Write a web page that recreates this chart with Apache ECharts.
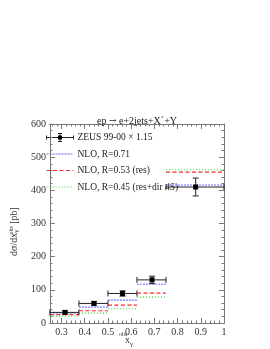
<!DOCTYPE html>
<html><head><meta charset="utf-8">
<script src="https://cdn.jsdelivr.net/npm/echarts@6/dist/echarts.min.js"></script>
<style>html,body{margin:0;padding:0;background:#fff}#c{width:270px;height:349px}</style>
</head><body><div id="c"></div>
<script>
// bins
const binLo = [0.25, 0.375, 0.5, 0.625, 0.75];
const binHi = [0.375, 0.5, 0.625, 0.75, 1.0];
// ZEUS data
const zeusX = [0.315, 0.44, 0.563, 0.69, 0.878];
const zeusY = [32, 59, 89, 130, 410];
const zeusErr = [5, 6, 8, 11, 27];
// NLO predictions
const nloR071 = [30, 48, 69, 117, 416];
const nloR053 = [25, 37, 54, 90, 455];
const nloR045 = [21, 30, 43, 78, 462];
// tick labels
const xTicks = [0.3, 0.4, 0.5, 0.6, 0.7, 0.8, 0.9, 1.0];
const xMinor = [];
for (let v = 26; v < 100; v += 2) if (v % 10 !== 0) xMinor.push(v / 100);

const FONT = 'Liberation Serif';
const histStyles = {
  r071: {color: '#9a9aff', width: 1.6, dash: [2, 1]},
  r053: {color: '#ff2a2a', width: 1.2, dash: [4, 2.5]},
  r045: {color: '#2ee02e', width: 1.2, dash: [1, 2]}
};
function lineStyleOf(st) {
  return {stroke: st.color, lineWidth: st.width, lineDash: st.dash, fill: null};
}
function histSeries(name, vals, st) {
  return {
    type: 'custom', name: name, xAxisIndex: 0, yAxisIndex: 0,
    itemStyle: {color: st.color, borderColor: st.color},
    data: vals.map((v, i) => [binLo[i], binHi[i], v]),
    renderItem: function (params, api) {
      const p0 = api.coord([api.value(0), api.value(2)]);
      const p1 = api.coord([api.value(1), api.value(2)]);
      return {type: 'line', shape: {x1: p0[0], y1: p0[1], x2: p1[0], y2: p1[1]},
        style: lineStyleOf(st)};
    }
  };
}
const dataSeries = {
  type: 'custom', name: 'ZEUS', z: 5,
  itemStyle: {color: '#000'},
  data: zeusX.map((x, i) => [x, zeusY[i], zeusErr[i], binLo[i], binHi[i]]),
  renderItem: function (params, api) {
    const c = api.coord([api.value(0), api.value(1)]);
    const lo = api.coord([api.value(3), api.value(1)]);
    const hi = api.coord([api.value(4), api.value(1)]);
    const top = api.coord([api.value(0), api.value(1) + api.value(2)]);
    const bot = api.coord([api.value(0), api.value(1) - api.value(2)]);
    const s = {stroke: '#222', lineWidth: 1, fill: null};
    const cap = 3;
    return {type: 'group', children: [
      {type: 'line', shape: {x1: lo[0], y1: c[1], x2: hi[0], y2: c[1]}, style: s},
      {type: 'line', shape: {x1: lo[0], y1: c[1] - cap, x2: lo[0], y2: c[1] + cap}, style: s},
      {type: 'line', shape: {x1: hi[0], y1: c[1] - cap, x2: hi[0], y2: c[1] + cap}, style: s},
      {type: 'line', shape: {x1: c[0], y1: top[1], x2: c[0], y2: bot[1]}, style: s},
      {type: 'line', shape: {x1: c[0] - cap, y1: top[1], x2: c[0] + cap, y2: top[1]}, style: s},
      {type: 'line', shape: {x1: c[0] - cap, y1: bot[1], x2: c[0] + cap, y2: bot[1]}, style: s},
      {type: 'rect', shape: {x: c[0] - 2.5, y: c[1] - 2.5, width: 5, height: 5}, style: {fill: '#000'}}
    ]};
  }
};

const axisLine = {show: true, lineStyle: {color: '#777', width: 1}};
function xAxisDef(pos, major, labels) {
  return {
    type: 'value', min: 0.25, max: 1, position: pos,
    axisLine: axisLine, splitLine: {show: false},
    axisTick: {show: true, inside: true, length: major ? 5 : 2.5,
      customValues: major ? xTicks : xMinor, lineStyle: {color: '#777'}},
    axisLabel: labels ? {show: true, customValues: xTicks, fontFamily: FONT, fontSize: 10,
      color: '#333', margin: 4, formatter: v => (Math.abs(v - 1) < 1e-9 ? '1' : v.toFixed(1))} : {show: false}
  };
}
const legendFont = '9.5px "Liberation Serif"';
const option = {
  animation: false,
  backgroundColor: '#fff',
  grid: {left: 37, right: 46, top: 124, bottom: 26},
  title: {text: '{a|ep }{b|→}{a| e+2jets+X\u00B4+Y}', left: 132, textAlign: 'center', top: 111,
    textStyle: {fontFamily: FONT, fontSize: 10, fontWeight: 'normal', color: '#222',
      rich: {
        a: {fontFamily: FONT, fontSize: 10, color: '#222'},
        b: {fontFamily: 'DejaVu Serif', fontSize: 9, color: '#222'}
      }}},
  xAxis: [
    xAxisDef('bottom', true, true),
    xAxisDef('bottom', false, false),
    xAxisDef('top', true, false),
    xAxisDef('top', false, false)
  ],
  yAxis: [
    {type: 'value', min: 0, max: 600, interval: 100, position: 'left',
      axisLine: axisLine, splitLine: {show: false},
      axisTick: {show: true, inside: true, length: 5, lineStyle: {color: '#777'}},
      minorTick: {show: true, splitNumber: 5, length: 2.5, lineStyle: {color: '#777'}},
      minorSplitLine: {show: false},
      axisLabel: {fontFamily: FONT, fontSize: 10, color: '#333', margin: 4},
      name: '{t|dσ/dx}{sub|γ}{sup|obs}{t| [pb]}', nameLocation: 'middle', nameGap: 21, nameRotate: 90,
      nameTextStyle: {padding: [0, 16, 0, 0], rich: {
        t: {fontFamily: FONT, fontSize: 10, color: '#333'},
        sub: {fontFamily: FONT, fontSize: 7, color: '#333', verticalAlign: 'bottom', padding: [5, 0, 0, 0]},
        sup: {fontFamily: FONT, fontSize: 6, color: '#333', verticalAlign: 'top', padding: [0, 0, 6, -5]}
      }}
    },
    {type: 'value', min: 0, max: 600, interval: 100, position: 'right',
      axisLine: axisLine, splitLine: {show: false},
      axisTick: {show: true, inside: true, length: 5, lineStyle: {color: '#777'}},
      minorTick: {show: true, splitNumber: 5, length: 2.5, lineStyle: {color: '#777'}},
      axisLabel: {show: false}}
  ],
  graphic: [
    // x-axis title x_γ^obs
    {type: 'text', left: 119, top: 331, style: {text: 'obs', font: '6px "Liberation Serif"', fill: '#333'}},
    {type: 'text', left: 125, top: 335, style: {text: 'x', font: '10px "Liberation Serif"', fill: '#333'}},
    {type: 'text', left: 130, top: 341, style: {text: 'γ', font: '7px "Liberation Serif"', fill: '#333'}},
    // legend
    {type: 'group', left: 44, top: 131, children: [
      {type: 'line', shape: {x1: 0, y1: 6, x2: 27, y2: 6}, style: {stroke: '#222', lineWidth: 1}},
      {type: 'line', shape: {x1: 0, y1: 4, x2: 0, y2: 8}, style: {stroke: '#222', lineWidth: 1}},
      {type: 'line', shape: {x1: 27, y1: 4, x2: 27, y2: 8}, style: {stroke: '#222', lineWidth: 1}},
      {type: 'line', shape: {x1: 13.5, y1: 2, x2: 13.5, y2: 10}, style: {stroke: '#222', lineWidth: 1}},
      {type: 'line', shape: {x1: 11.5, y1: 2, x2: 15.5, y2: 2}, style: {stroke: '#222', lineWidth: 1}},
      {type: 'line', shape: {x1: 11.5, y1: 10, x2: 15.5, y2: 10}, style: {stroke: '#222', lineWidth: 1}},
      {type: 'rect', shape: {x: 11.5, y: 4, width: 4, height: 4}, style: {fill: '#000'}},
      {type: 'text', x: 31, y: 6, style: {text: 'ZEUS 99-00 × 1.15', font: legendFont, fill: '#222', verticalAlign: 'middle'}},
      {type: 'line', shape: {x1: 0, y1: 22.5, x2: 27, y2: 22.5}, style: lineStyleOf(histStyles.r071)},
      {type: 'text', x: 31, y: 22.5, style: {text: 'NLO, R=0.71', font: legendFont, fill: '#222', verticalAlign: 'middle'}},
      {type: 'line', shape: {x1: 0, y1: 39, x2: 27, y2: 39}, style: lineStyleOf(histStyles.r053)},
      {type: 'text', x: 31, y: 39, style: {text: 'NLO, R=0.53 (res)', font: legendFont, fill: '#222', verticalAlign: 'middle'}},
      {type: 'line', shape: {x1: 0, y1: 55.5, x2: 27, y2: 55.5}, style: lineStyleOf(histStyles.r045)},
      {type: 'text', x: 31, y: 55.5, style: {text: 'NLO, R=0.45 (res+dir 4S)', font: legendFont, fill: '#222', verticalAlign: 'middle'}}
    ]}
  ],
  series: [
    histSeries('NLO, R=0.45 (res+dir 4S)', nloR045, histStyles.r045),
    histSeries('NLO, R=0.53 (res)', nloR053, histStyles.r053),
    histSeries('NLO, R=0.71', nloR071, histStyles.r071),
    dataSeries
  ]
};
const chart = echarts.init(document.getElementById('c'), null, {renderer: 'canvas'});
chart.setOption(option);
</script></body></html>
